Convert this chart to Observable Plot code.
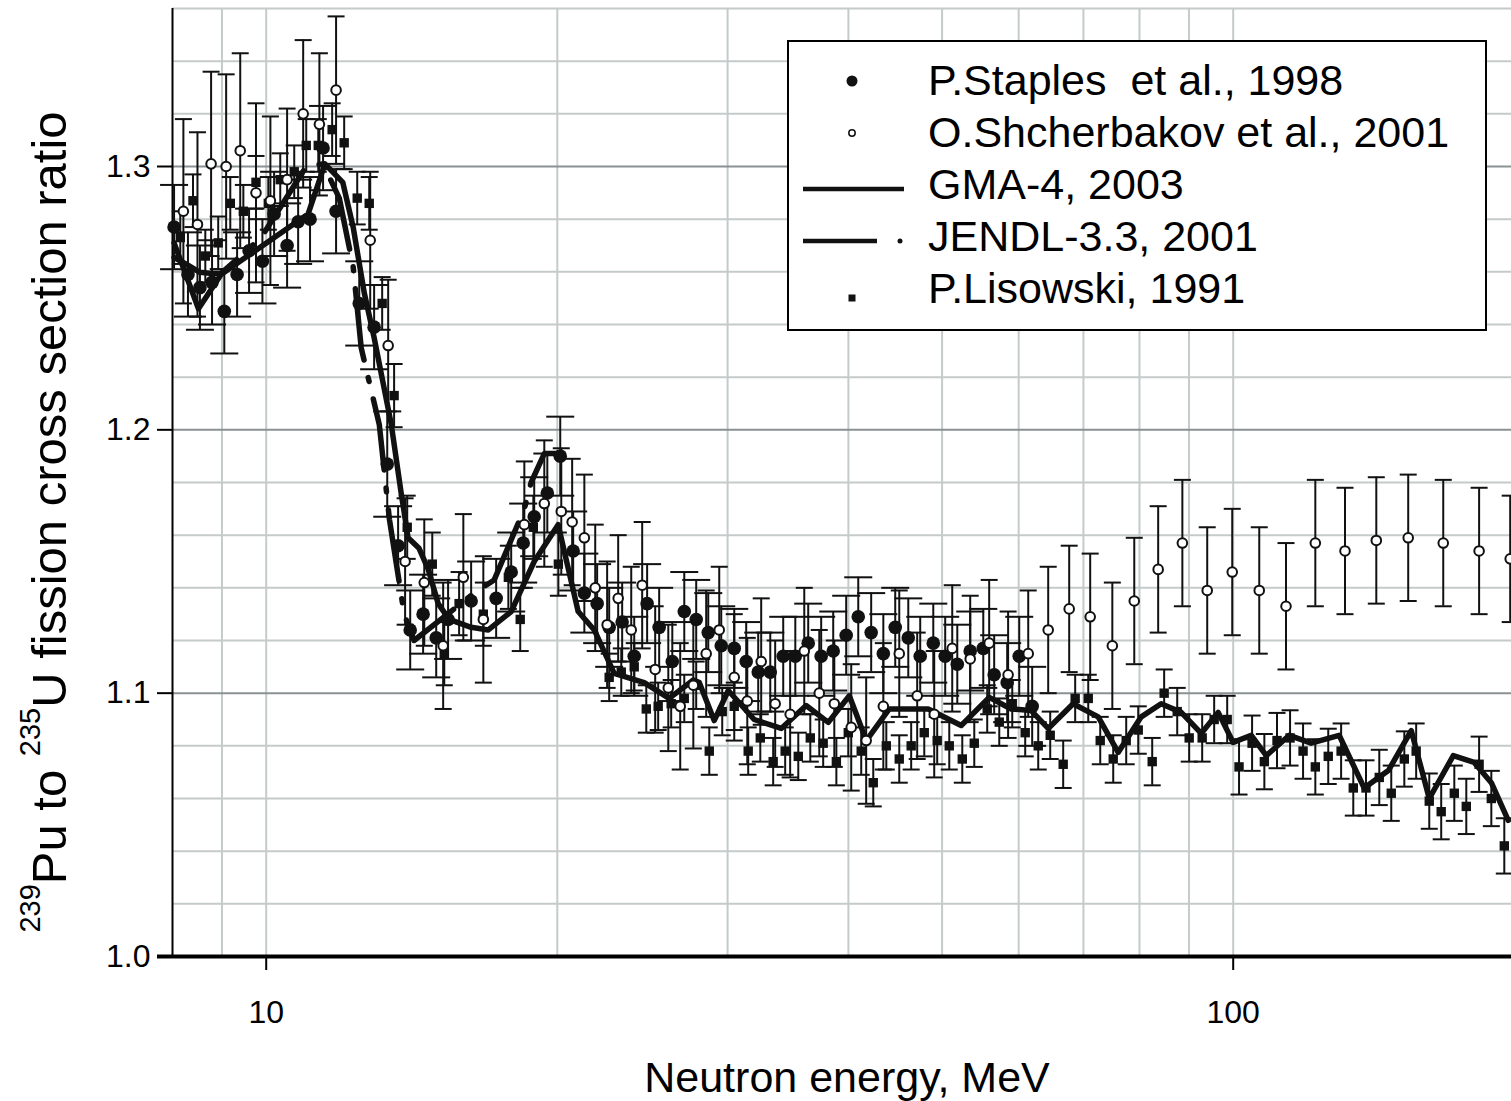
<!DOCTYPE html>
<html><head><meta charset="utf-8">
<script src="https://cdn.jsdelivr.net/npm/d3@7"></script>
<script src="https://cdn.jsdelivr.net/npm/@observablehq/plot@0.6"></script>
<style>
html,body{margin:0;padding:0;background:#fff;}
#chart{width:1511px;height:1101px;overflow:hidden;}
</style></head><body><div id="chart"></div>
<script>
// ---------- DATA (neutron energy in MeV, cross-section ratio) ----------
const staplesE = [8.03,8.30,8.54,8.79,9.05,9.33,9.60,9.91,10.19,10.51,10.79,11.10,11.45,11.81,12.48,12.93,13.34,13.69,14.09,14.53,14.99,15.42,16.29,17.29,17.92,18.44,18.93,19.53,20.14,20.77,21.33,21.99,22.63,23.34,24.02,24.77,25.49,26.30,27.06,27.84,28.65,29.55,30.48,31.36,32.27,33.21,34.25,35.25,36.35,37.49,38.58,39.79,40.95,42.23,43.47,44.72,46.13,47.46,48.96,50.37,51.84,53.46,55.15,56.60,58.38,60.08,61.96];
const staplesV = [1.277,1.259,1.254,1.256,1.245,1.259,1.268,1.264,1.282,1.270,1.279,1.280,1.307,1.283,1.248,1.239,1.187,1.156,1.124,1.130,1.121,1.128,1.135,1.136,1.146,1.157,1.167,1.176,1.190,1.154,1.138,1.134,1.125,1.127,1.114,1.134,1.125,1.112,1.131,1.128,1.123,1.118,1.117,1.112,1.108,1.108,1.114,1.114,1.119,1.114,1.116,1.122,1.129,1.123,1.115,1.125,1.121,1.114,1.119,1.114,1.111,1.116,1.117,1.107,1.104,1.114,1.095];
const staplesErr = [0.016,0.016,0.016,0.016,0.016,0.016,0.016,0.016,0.016,0.016,0.016,0.016,0.016,0.016,0.016,0.016,0.020,0.015,0.015,0.015,0.015,0.015,0.015,0.015,0.015,0.015,0.015,0.015,0.015,0.015,0.015,0.015,0.015,0.015,0.015,0.015,0.015,0.015,0.015,0.015,0.015,0.015,0.015,0.015,0.015,0.015,0.015,0.015,0.015,0.015,0.015,0.015,0.015,0.015,0.015,0.015,0.015,0.015,0.015,0.015,0.015,0.015,0.015,0.015,0.015,0.015,0.015];

const shchE = [8.21,8.49,8.77,9.09,9.40,9.76,10.10,10.51,10.92,11.35,11.81,12.81,13.37,13.92,14.57,15.24,15.99,16.77,18.49,19.39,20.19,20.72,21.33,21.89,22.52,23.12,23.85,24.48,25.25,26.05,26.80,27.65,28.51,29.41,30.48,31.44,32.50,33.60,34.82,36.01,37.32,38.68,40.27,41.73,43.47,45.15,47.12,49.07,51.22,53.46,55.93,58.51,61.38,64.37,67.67,71.14,74.99,79.01,83.64,88.60,94.00,99.77,106.4,113.4,121.6,130.5,140.6,151.7,164.9,179.6,193.4];
const shchV = [1.283,1.278,1.301,1.300,1.306,1.290,1.287,1.295,1.320,1.316,1.329,1.272,1.232,1.150,1.142,1.118,1.144,1.128,1.164,1.172,1.169,1.165,1.159,1.140,1.126,1.136,1.124,1.141,1.109,1.102,1.095,1.103,1.115,1.124,1.106,1.097,1.112,1.096,1.092,1.116,1.100,1.096,1.087,1.082,1.095,1.115,1.099,1.092,1.117,1.113,1.119,1.107,1.115,1.124,1.132,1.129,1.118,1.135,1.147,1.157,1.139,1.146,1.139,1.133,1.157,1.154,1.158,1.159,1.157,1.154,1.151];
const shchErr = [0.035,0.035,0.035,0.035,0.037,0.034,0.032,0.027,0.028,0.027,0.028,0.026,0.025,0.024,0.024,0.024,0.024,0.024,0.024,0.024,0.024,0.024,0.024,0.024,0.024,0.024,0.024,0.024,0.024,0.024,0.024,0.024,0.024,0.024,0.024,0.024,0.024,0.024,0.024,0.024,0.024,0.024,0.024,0.024,0.024,0.024,0.024,0.024,0.024,0.024,0.024,0.024,0.024,0.024,0.024,0.024,0.024,0.024,0.024,0.024,0.024,0.024,0.024,0.024,0.024,0.024,0.024,0.024,0.024,0.024,0.024];

const lisE = [8.15,8.40,8.65,8.92,9.18,9.47,9.76,10.05,10.34,10.69,11.00,11.32,11.70,12.04,12.42,12.78,13.18,13.56,13.99,14.85,15.28,15.83,16.77,17.80,18.31,18.89,20.05,22.63,23.29,24.02,24.72,25.43,26.23,27.06,27.84,28.72,29.62,30.48,31.51,32.43,33.44,34.41,35.50,36.53,37.67,38.87,39.99,41.24,42.44,43.78,45.15,46.45,47.92,49.42,50.86,52.46,53.98,55.67,57.29,59.09,60.94,62.86,64.68,66.71,68.64,70.81,72.86,75.15,77.51,79.76,82.46,84.84,87.52,90.05,92.88,95.57,98.58,101.4,104.6,107.7,111.0,114.5,118.1,121.6,125.4,129.3,133.1,137.2,141.6,145.7,150.3,154.6,159.5,164.1,169.3,174.2,179.6,184.9,190.7];
const lisV = [1.273,1.287,1.266,1.271,1.286,1.283,1.294,1.286,1.295,1.298,1.308,1.308,1.314,1.309,1.288,1.286,1.248,1.213,1.163,1.149,1.115,1.134,1.130,1.144,1.128,1.163,1.149,1.106,1.108,1.110,1.094,1.095,1.096,1.098,1.103,1.078,1.093,1.095,1.078,1.083,1.074,1.078,1.076,1.083,1.081,1.074,1.085,1.078,1.066,1.080,1.075,1.080,1.085,1.082,1.080,1.075,1.081,1.094,1.089,1.096,1.085,1.080,1.084,1.073,1.098,1.098,1.082,1.075,1.082,1.086,1.074,1.100,1.093,1.083,1.083,1.090,1.090,1.072,1.081,1.074,1.082,1.083,1.078,1.072,1.076,1.078,1.064,1.064,1.068,1.062,1.075,1.078,1.059,1.055,1.062,1.057,1.073,1.060,1.042];
const lisErr = [0.010,0.010,0.010,0.010,0.010,0.010,0.010,0.010,0.010,0.010,0.010,0.010,0.010,0.010,0.010,0.010,0.010,0.012,0.012,0.012,0.012,0.012,0.012,0.012,0.012,0.012,0.012,0.009,0.009,0.009,0.009,0.009,0.009,0.009,0.009,0.009,0.009,0.009,0.009,0.009,0.009,0.009,0.009,0.009,0.009,0.009,0.009,0.009,0.009,0.009,0.009,0.009,0.009,0.009,0.009,0.009,0.009,0.009,0.009,0.009,0.009,0.009,0.009,0.009,0.009,0.009,0.009,0.009,0.009,0.009,0.009,0.009,0.009,0.009,0.009,0.009,0.009,0.0105,0.0105,0.0105,0.0105,0.0105,0.0105,0.0105,0.0105,0.0105,0.0105,0.0105,0.0105,0.0105,0.0105,0.0105,0.0105,0.0105,0.0105,0.0105,0.0105,0.0105,0.0105];

const gmaE = [8.03,8.51,8.98,11.05,11.5,12.0,12.3,12.63,12.93,13.47,13.79,14.02,14.39,14.71,15.06,15.46,16.29,16.97,17.92,18.93,20.04,21.02,21.84,22.9,24.6,26.1,27.65,28.05,29.06,30.05,31.96,34.09,36.17,38.13,40.09,41.74,44.09,48.37,52.33,55.94,58.94,61.81,64.37,68.31,72.51,76.04,80.33,84.24,88.36,92.67,96.49,100,104.4,108.2,114.3,120.4,128.7,136.6,144.7,152.8,159.5,168.9,177.5,184.9,192.5];
const gmaV = [1.271,1.246,1.259,1.282,1.301,1.294,1.277,1.252,1.235,1.202,1.176,1.159,1.155,1.147,1.134,1.128,1.125,1.124,1.131,1.150,1.164,1.131,1.124,1.1075,1.104,1.098,1.105,1.104,1.0896,1.101,1.090,1.0866,1.0953,1.0889,1.099,1.082,1.094,1.094,1.0877,1.0984,1.094,1.0934,1.0866,1.096,1.091,1.0775,1.091,1.096,1.0927,1.0847,1.0927,1.0813,1.084,1.0763,1.084,1.081,1.084,1.064,1.0706,1.0858,1.060,1.0763,1.0737,1.066,1.0517];

const jendlE = [8.03,8.30,8.54,8.79,8.98,9.88,11.0,11.45,11.9,12.3,12.54,13.09,13.41,13.89,14.22,16.41,17.21,18.49,18.79,19.39,20.19];
const jendlV = [1.2655,1.2625,1.2598,1.2594,1.2594,1.273,1.300,1.301,1.288,1.262,1.231,1.202,1.166,1.130,1.120,1.138,1.143,1.170,1.180,1.191,1.191];

const legendLabels = ["P.Staples  et al., 1998","O.Shcherbakov et al., 2001","GMA-4, 2003","JENDL-3.3, 2001","P.Lisowski, 1991"];
const yTicks = [1.0,1.1,1.2,1.3];
const xTicks = [10,100];
const gridYMinor = [1.02,1.04,1.06,1.08,1.12,1.14,1.16,1.18,1.22,1.24,1.26,1.28,1.32,1.34,1.36];
const gridYMajor = [1.1,1.2,1.3];
const gridX = [9,10,20,30,40,50,60,70,80,90,100];

// ---------- BUILD ----------
const rows = (E, V, Er) => E.map((e, i) => ({E: e, v: V[i], err: Er ? Er[i] : 0}));
const staples = rows(staplesE, staplesV, staplesErr);
const shch = rows(shchE, shchV, shchErr);
const lis = rows(lisE, lisV, lisErr);
const gma = rows(gmaE, gmaV);
const jendl = rows(jendlE, jendlV);
const caps = (d) => d.flatMap(p => [{E: p.E, y: p.v - p.err}, {E: p.E, y: p.v + p.err}]);
const capSymbol = {draw(ctx, size) { const r = Math.sqrt(size / Math.PI); ctx.moveTo(-r, 0); ctx.lineTo(r, 0); }};

const FONT = "'Liberation Sans', Arial, Helvetica, sans-serif";
const INK = "#111";
const errBars = (d, capR) => [
  Plot.ruleX(d, {x: "E", y1: p => p.v - p.err, y2: p => p.v + p.err, stroke: INK, strokeWidth: 2}),
  Plot.dot(caps(d), {x: "E", y: "y", symbol: capSymbol, r: capR, fill: "none", stroke: INK, strokeWidth: 2})
];

const svg = Plot.plot({
  width: 1511, height: 1101,
  marginLeft: 172, marginRight: 0, marginTop: 8, marginBottom: 145,
  x: {type: "log", domain: [8, 194]},
  y: {domain: [1.0, 1.36]},
  style: {fontFamily: FONT, background: "white", color: "black"},
  marks: [
    Plot.ruleY(gridYMinor, {stroke: "#c5caca", strokeWidth: 2}),
    Plot.ruleX(gridX, {stroke: "#c5caca", strokeWidth: 2}),
    Plot.ruleY(gridYMajor, {stroke: "#8a9192", strokeWidth: 2}),
    Plot.ruleX([8], {stroke: "black", strokeWidth: 2}),
    Plot.axisY({ticks: yTicks, tickSize: 15, tickPadding: 7, fontSize: 32, tickFormat: d => d.toFixed(1), strokeWidth: 2, label: null}),
    Plot.axisY({ticks: [1.0], tickSize: 15, strokeWidth: 4, text: null, label: null}),
    Plot.axisX({ticks: xTicks, tickSize: 14, tickPadding: 30, fontSize: 32, tickFormat: d => `${d}`, strokeWidth: 2, label: null}),
    Plot.ruleY([1.0], {stroke: "black", strokeWidth: 4}),
    ...errBars(lis, 8.5),
    ...errBars(shch, 8.5),
    ...errBars(staples, 14),
    Plot.line(gma, {x: "E", y: "v", stroke: INK, strokeWidth: 5.5}),
    Plot.line(jendl, {x: "E", y: "v", stroke: INK, strokeWidth: 5.5, strokeDasharray: "72,18,4,18"}),
    Plot.dot(lis, {x: "E", y: "v", symbol: "square", r: 5.3, fill: INK}),
    Plot.dot(staples, {x: "E", y: "v", r: 6.8, fill: INK}),
    Plot.dot(shch, {x: "E", y: "v", r: 4.8, fill: "white", stroke: INK, strokeWidth: 2})
  ]
});
document.getElementById("chart").appendChild(svg);

// ---------- TEXT & LEGEND ----------
const s = d3.select(svg);
const yt = s.append("text")
  .attr("transform", "translate(66,522) rotate(-90)")
  .attr("text-anchor", "middle").attr("font-family", FONT).attr("font-size", 49).attr("fill", "black");
yt.append("tspan").attr("font-size", 29).attr("dy", -26).text("239");
yt.append("tspan").attr("dy", 26).text("Pu to ");
yt.append("tspan").attr("font-size", 29).attr("dy", -26).text("235");
yt.append("tspan").attr("dy", 26).text("U fission cross section ratio");

s.append("text").attr("x", 847).attr("y", 1092).attr("text-anchor", "middle")
  .attr("font-family", FONT).attr("font-size", 43).attr("fill", "black").text("Neutron energy, MeV");

const lg = s.append("g");
lg.append("rect").attr("x", 788).attr("y", 41).attr("width", 698).attr("height", 289)
  .attr("fill", "white").attr("stroke", "black").attr("stroke-width", 2);
legendLabels.forEach((t, i) => {
  lg.append("text").attr("x", 928).attr("y", 95 + 52 * i).attr("text-anchor", "start")
    .attr("font-family", FONT).attr("font-size", 43)
    .attr("fill", "black").style("white-space", "pre").text(t);
});
const cy = i => 81 + 52 * i;
lg.append("circle").attr("cx", 852).attr("cy", cy(0)).attr("r", 5.5).attr("fill", INK);
lg.append("circle").attr("cx", 852).attr("cy", cy(1)).attr("r", 3.2).attr("fill", "white").attr("stroke", INK).attr("stroke-width", 1.5);
lg.append("line").attr("x1", 803).attr("x2", 904).attr("y1", cy(2) + 4).attr("y2", cy(2) + 4).attr("stroke", INK).attr("stroke-width", 4.5);
lg.append("line").attr("x1", 803).attr("x2", 877).attr("y1", cy(3) + 4).attr("y2", cy(3) + 4).attr("stroke", INK).attr("stroke-width", 4.5);
lg.append("circle").attr("cx", 900).attr("cy", cy(3) + 4).attr("r", 2.5).attr("fill", INK);
lg.append("rect").attr("x", 848.5).attr("y", cy(4) + 5.5).attr("width", 7).attr("height", 7).attr("fill", INK);
</script>
</body></html>
